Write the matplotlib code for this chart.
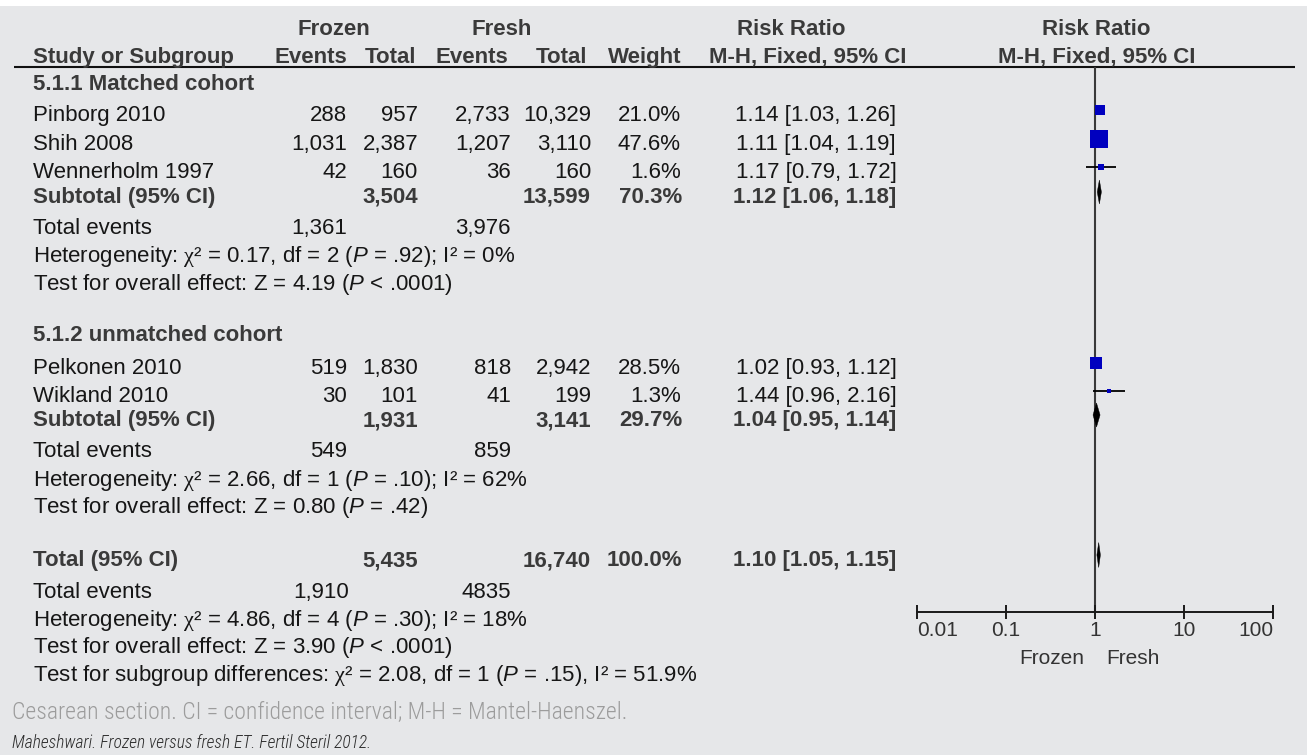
import os
import matplotlib
matplotlib.use('Agg')
import matplotlib.pyplot as plt
from matplotlib import font_manager as fm
from matplotlib.patches import Polygon, Rectangle
from matplotlib.font_manager import FontProperties

# ---------------- data ----------------
studies = ['Pinborg 2010', 'Shih 2008', 'Wennerholm 1997', 'Pelkonen 2010', 'Wikland 2010']
study_group = [0, 0, 0, 1, 1]
frozen_events = [288, 1031, 42, 519, 30]
frozen_total = [957, 2387, 160, 1830, 101]
fresh_events = [2733, 1207, 36, 818, 41]
fresh_total = [10329, 3110, 160, 2942, 199]
weights = [21.0, 47.6, 1.6, 28.5, 1.3]
rr = [1.14, 1.11, 1.17, 1.02, 1.44]
rr_lo = [1.03, 1.04, 0.79, 0.93, 0.96]
rr_hi = [1.26, 1.19, 1.72, 1.12, 2.16]

subgroups = ['5.1.1 Matched cohort', '5.1.2 unmatched cohort']
sub_frozen_total = [3504, 1931]
sub_fresh_total = [13599, 3141]
sub_weight = [70.3, 29.7]
sub_rr = [1.12, 1.04]
sub_lo = [1.06, 0.95]
sub_hi = [1.18, 1.14]
sub_frozen_events = ['1,361', '549']
sub_fresh_events = ['3,976', '859']
sub_chi2 = ['0.17', '2.66']
sub_df = [2, 1]
sub_het_p = ['= .92', '= .10']
sub_i2 = ['0%', '62%']
sub_z = ['4.19', '0.80']
sub_z_p = ['< .0001', '= .42']

total_frozen_total = 5435
total_fresh_total = 16740
total_weight = 100.0
total_rr, total_lo, total_hi = 1.10, 1.05, 1.15
total_frozen_events = '1,910'
total_fresh_events = '4835'
total_chi2, total_df, total_het_p, total_i2 = '4.86', 4, '= .30', '18%'
total_z, total_z_p = '3.90', '< .0001'
subdiff_chi2, subdiff_df, subdiff_p, subdiff_i2 = '2.08', 1, '= .15', '51.9%'

axis_ticks = [0.01, 0.1, 1, 10, 100]
axis_ticklabels = ['0.01', '0.1', '1', '10', '100']
favours = ['Frozen', 'Fresh']
caption = 'Cesarean section. CI = confidence interval; M-H = Mantel-Haenszel.'
source = 'Maheshwari. Frozen versus fresh ET. Fertil Steril 2012.'

# ---------------- style ----------------
W, H = 1307, 755
BG = '#E6E7E9'
TXT = '#161616'
BOLD = '#3a3a3a'
BLUE = '#0000BF'
FS = 16

plt.rcParams['font.family'] = ['Liberation Sans', 'DejaVu Sans']
plt.rcParams['mathtext.fontset'] = 'custom'
plt.rcParams['mathtext.rm'] = 'Liberation Sans'
plt.rcParams['mathtext.it'] = 'Liberation Sans:italic'
plt.rcParams['mathtext.bf'] = 'Liberation Sans:bold'
plt.rcParams['mathtext.sf'] = 'Liberation Serif'

fig = plt.figure(figsize=(W / 100, H / 100), dpi=100, facecolor=BG)
ax = fig.add_axes([0, 0, 1, 1])
ax.set_xlim(0, W)
ax.set_ylim(H, 0)
ax.axis('off')
ax.add_patch(Rectangle((0, 0), W, 6, color='white', lw=0, zorder=0))

# column anchors (px)
X_LABEL = 33
X_FE, X_FT, X_RE, X_RT, X_W = 347, 418, 511, 591, 681
X_RR = 816


def fmt(n):
    return f'{n:,}'


def T(x, yc, s, bold=False, ha='left', color=None, size=FS):
    ax.text(x, yc + 8, s, ha=ha, va='baseline', fontsize=size,
            fontweight='bold' if bold else 'normal',
            color=color if color else (BOLD if bold else TXT))


def het(chi2, df, p, i2, sep=';'):
    return (r'Heterogeneity: $\mathsf{\chi}$² = ' + chi2 + f', df = {df} (' +
            r'$\mathit{P}$ ' + p + f'){sep} I² = ' + i2)


def zt(z, p):
    return 'Test for overall effect: Z = ' + z + r' ($\mathit{P}$ ' + p + ')'

# headers
T(334, 27, 'Frozen', bold=True, ha='center')
T(502, 27, 'Fresh', bold=True, ha='center')
T(737, 27, 'Risk Ratio', bold=True)
T(1096, 27, 'Risk Ratio', bold=True, ha='center')
T(X_LABEL, 55, 'Study or Subgroup', bold=True)
T(X_FE, 55, 'Events', bold=True, ha='right')
T(X_FT - 2, 55, 'Total', bold=True, ha='right')
T(X_RE - 3, 55, 'Events', bold=True, ha='right')
T(X_RT - 4, 55, 'Total', bold=True, ha='right')
T(X_W, 55, 'Weight', bold=True, ha='right')
T(709, 55, 'M-H, Fixed, 95% CI', bold=True)
T(1097, 55, 'M-H, Fixed, 95% CI', bold=True, ha='center')
ax.plot([14, 1295], [66.7, 66.7], color='#111111', lw=1.5, solid_capstyle='butt')

# row layout (text centre, px)
group_rows = [
    dict(title=82, studies=[113, 142, 170], sub=195, ev=226, het=254, z=282),
    dict(title=333, studies=[366, 394], sub=418, ev=449, het=478, z=505),
]
TOTAL_Y, TOT_EV_Y, TOT_HET_Y, TOT_Z_Y, SUBDIFF_Y = 558, 590, 618, 645, 673
MK = -3  # marker offset from text centre

# forest axes: log scale, y in px like the overlay
L, R = 916.7, 1273.3
ax2 = fig.add_axes([L / W, 0, (R - L) / W, 1])
ax2.set_xscale('log')
ax2.set_xlim(axis_ticks[0], axis_ticks[-1])
ax2.set_ylim(H, 0)
ax2.patch.set_alpha(0)
for sp in ['top', 'left', 'right']:
    ax2.spines[sp].set_visible(False)
AXIS_Y = 612.3
ax2.spines['bottom'].set_position(('data', AXIS_Y))
ax2.spines['bottom'].set_linewidth(1.4)
ax2.spines['bottom'].set_color('#1a1a1a')
ax2.set_yticks([])
ax2.set_xticks(axis_ticks)
ax2.set_xticklabels(axis_ticklabels)
ax2.minorticks_off()
ax2.tick_params(axis='x', direction='inout', length=10, width=1.4, color='#1a1a1a',
                labelsize=15, labelcolor='#333333', pad=1)
tl = ax2.get_xticklabels()
tl[0].set_ha('left')
tl[-1].set_ha('right')
ax2.vlines(1, 66.7, AXIS_Y, color='#3a3a3a', lw=1.5, zorder=1)


def diamond(y, c, lo, hi, h):
    ax2.add_patch(Polygon([(lo, y), (c, y - h / 2), (hi, y), (c, y + h / 2)],
                          closed=True, facecolor='black', edgecolor='black', lw=0.3, zorder=4))


for g, rows in enumerate(group_rows):
    T(X_LABEL, rows['title'], subgroups[g], bold=True)
    idx = [i for i in range(len(studies)) if study_group[i] == g]
    for i, yc in zip(idx, rows['studies']):
        T(X_LABEL, yc, studies[i])
        T(X_FE, yc, fmt(frozen_events[i]), ha='right')
        T(X_FT, yc, fmt(frozen_total[i]), ha='right')
        T(X_RE, yc, fmt(fresh_events[i]), ha='right')
        T(X_RT, yc, fmt(fresh_total[i]), ha='right')
        T(X_W, yc, f'{weights[i]:.1f}%', ha='right')
        T(X_RR, yc, f'{rr[i]:.2f} [{rr_lo[i]:.2f}, {rr_hi[i]:.2f}]', ha='center')
        ym = yc + MK
        ax2.hlines(ym, rr_lo[i], rr_hi[i], color='black', lw=1.3, zorder=2)
        side = 4.6 + 0.28 * weights[i]
        ax2.plot([rr[i]], [ym], marker='s', ms=side * 0.72, mew=0, color=BLUE,
                 linestyle='none', zorder=3)
    ys = rows['sub']
    T(X_LABEL, ys, 'Subtotal (95% CI)', bold=True)
    T(X_FT, ys, fmt(sub_frozen_total[g]), bold=True, ha='right')
    T(X_RT, ys, fmt(sub_fresh_total[g]), bold=True, ha='right')
    T(X_W + 1, ys, f'{sub_weight[g]:.1f}%', bold=True, ha='right')
    T(X_RR - 1, ys, f'{sub_rr[g]:.2f} [{sub_lo[g]:.2f}, {sub_hi[g]:.2f}]', bold=True, ha='center')
    diamond(ys + MK, sub_rr[g], sub_lo[g], sub_hi[g], 24)
    T(X_LABEL, rows['ev'], 'Total events')
    T(X_FE, rows['ev'], sub_frozen_events[g], ha='right')
    T(X_RE, rows['ev'], sub_fresh_events[g], ha='right')
    T(X_LABEL, rows['het'], het(sub_chi2[g], sub_df[g], sub_het_p[g], sub_i2[g]))
    T(X_LABEL, rows['z'], zt(sub_z[g], sub_z_p[g]))

# overall
T(X_LABEL, TOTAL_Y, 'Total (95% CI)', bold=True)
T(X_FT, TOTAL_Y, fmt(total_frozen_total), bold=True, ha='right')
T(X_RT, TOTAL_Y, fmt(total_fresh_total), bold=True, ha='right')
T(X_W + 1, TOTAL_Y, f'{total_weight:.1f}%', bold=True, ha='right')
T(X_RR - 1, TOTAL_Y, f'{total_rr:.2f} [{total_lo:.2f}, {total_hi:.2f}]', bold=True, ha='center')
diamond(TOTAL_Y + MK, total_rr, total_lo, total_hi, 25)
T(X_LABEL, TOT_EV_Y, 'Total events')
T(X_FE + 2, TOT_EV_Y, total_frozen_events, ha='right')
T(X_RE, TOT_EV_Y, total_fresh_events, ha='right')
T(X_LABEL, TOT_HET_Y, het(total_chi2, total_df, total_het_p, total_i2))
T(X_LABEL, TOT_Z_Y, zt(total_z, total_z_p))
T(X_LABEL, SUBDIFF_Y, r'Test for subgroup differences: $\mathsf{\chi}$² = ' + subdiff_chi2 +
  f', df = {subdiff_df} (' + r'$\mathit{P}$ ' + subdiff_p + '), I² = ' + subdiff_i2)

# favours labels under axis
T(1084, 656, favours[0], ha='right', color='#333333', size=15)
T(1106, 656, favours[1], ha='left', color='#333333', size=15)

# caption and source: condensed sans face if installed
files = {os.path.basename(f.fname): f.fname for f in fm.fontManager.ttflist}


def pick(cands):
    for c in cands:
        if c in files:
            return files[c]
    return None

cap_file = pick(['RobotoCondensed-Light.ttf', 'OpenSansCondensed-Light.ttf',
                 'OpenSans_Condensed-Light.ttf', 'LiberationSansNarrow-Regular.ttf',
                 'DejaVuSansCondensed.ttf', 'Roboto-Light.ttf', 'Lato-Light.ttf'])
src_file = pick(['RobotoCondensed-LightItalic.ttf', 'RobotoCondensed-Italic.ttf',
                 'OpenSansCondensed-LightItalic.ttf', 'LiberationSansNarrow-Italic.ttf',
                 'DejaVuSansCondensed-Oblique.ttf', 'Roboto-LightItalic.ttf', 'Lato-Italic.ttf'])
fp_cap = FontProperties(fname=cap_file) if cap_file else FontProperties(family='Liberation Sans')
fp_src = FontProperties(fname=src_file) if src_file else FontProperties(family='Liberation Sans', style='italic')

t_cap = ax.text(12, 711 + 7, caption, fontproperties=fp_cap, color='#9c9c9c', va='baseline', fontsize=14)
t_src = ax.text(12, 742 + 6, source, fontproperties=fp_src, color='#2a2a2a', va='baseline', fontsize=12)
fig.canvas.draw()
r = fig.canvas.get_renderer()
for t, target in [(t_cap, 613), (t_src, 360)]:
    w = t.get_window_extent(r).width
    t.set_fontsize(t.get_fontsize() * target / w)

fig.savefig('out.png', dpi=100, facecolor=BG)
